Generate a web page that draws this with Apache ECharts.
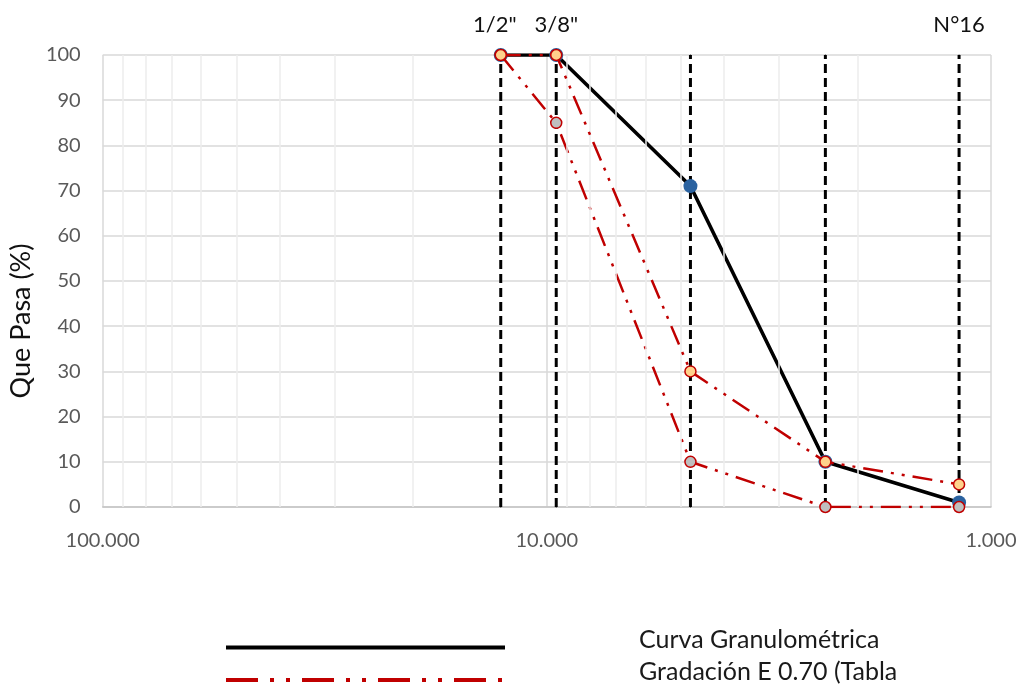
<!DOCTYPE html>
<html>
<head>
<meta charset="utf-8">
<script src="https://cdn.jsdelivr.net/npm/echarts@6/dist/echarts.min.js"></script>
<style>
html,body{margin:0;padding:0;background:#fff;}
#chart{width:1024px;height:690px;}
</style>
</head>
<body>
<div id="chart"></div>
<script>
// Sieve sizes (mm) and names
const sieveNames = ['1/2"', '3/8"', 'N°4', 'N°8', 'N°16'];
const sieveSizes = [12.7, 9.525, 4.75, 2.36, 1.18];
const topLabels = ['1/2"', '3/8"', '', '', 'N°16'];
// Percent passing
const curva = [100, 100, 71, 10, 1];
const gradLower = [100, 85, 10, 0, 0];
const gradUpper = [100, 100, 30, 10, 5];
// Minor vertical gridlines of the log axis
const minorGrid = [90, 80, 70, 60, 50, 40, 30, 20, 9, 8, 7, 6, 5, 4, 3, 2];

const nameCurva = 'Curva Granulométrica';
const nameGrad = 'Gradación E 0.70 (Tabla';
const FONT = 'Lato, "Open Sans", sans-serif';
const RED = '#c00000';

const chart = echarts.init(document.getElementById('chart'));

const pts = arr => sieveSizes.map((s, i) => [s, arr[i]]);

const series = [];
// minor gridlines holder
series.push({
  type: 'line', name: '_grid', data: [], z: 0, silent: true,
  markLine: {
    silent: true, symbol: 'none', animation: false,
    label: { show: false },
    lineStyle: { color: '#ececec', width: 1.5, type: 'solid' },
    data: minorGrid.map(v => ({ xAxis: v }))
  }
});
// vertical dashed sieve lines
sieveSizes.forEach((s, i) => {
  series.push({
    type: 'line', name: '_v' + i, z: 2, silent: true,
    showSymbol: true, symbol: 'circle', symbolSize: 1,
    itemStyle: { color: '#000' },
    lineStyle: { color: '#000', width: 3, type: [9, 5] },
    data: [
      { value: [s, 0] },
      { value: [s, 100], label: { show: !!topLabels[i], formatter: topLabels[i], position: 'top', distance: 19,
        offset: [i === 0 ? -6 : 0, 0],
        fontFamily: FONT, fontSize: 22, color: '#111' } }
    ],
    label: { show: false }
  });
});
series.push({
  type: 'line', name: nameCurva, z: 3,
  data: pts(curva),
  symbol: 'circle', symbolSize: 14,
  itemStyle: { color: '#2a62a0', borderWidth: 0 },
  lineStyle: { color: '#000', width: 3.6 }
});
series.push({
  type: 'line', name: nameGrad, z: 4,
  data: pts(gradLower),
  symbol: 'circle', symbolSize: 11,
  itemStyle: { color: '#bfbfbf', borderColor: RED, borderWidth: 1.5 },
  lineStyle: { color: RED, width: 2.5, type: [20, 8, 3, 8, 3, 8] }
});
series.push({
  type: 'line', name: nameGrad, z: 5,
  data: pts(gradUpper),
  symbol: 'circle', symbolSize: 11,
  itemStyle: { color: '#ffd28c', borderColor: RED, borderWidth: 1.5 },
  lineStyle: { color: RED, width: 2.5, type: [20, 8, 3, 8, 3, 8] }
});

chart.setOption({
  animation: false,
  backgroundColor: '#fff',
  grid: { left: 100, right: 33, top: 55, bottom: 183, containLabel: false },
  xAxis: {
    type: 'log', logBase: 10, min: 1, max: 100, inverse: true,
    axisLine: { show: true, lineStyle: { color: '#c4c4c4', width: 1.5 } },
    axisTick: { show: false },
    splitLine: { show: true, lineStyle: { color: '#d9d9d9', width: 1.5 } },
    minorSplitLine: { show: false },
    axisLabel: { color: '#595959', fontFamily: FONT, fontSize: 20, margin: 24,
      formatter: v => Number(v).toFixed(3) }
  },
  yAxis: {
    type: 'value', min: 0, max: 100, interval: 10,
    name: 'Que Pasa (%)', nameLocation: 'middle', nameGap: 61, nameRotate: 90,
    nameTextStyle: { fontFamily: FONT, fontSize: 27, color: '#111', padding: [0, 80, 0, 0] },
    axisLine: { show: false }, axisTick: { show: false },
    splitLine: { show: true, lineStyle: { color: '#d9d9d9', width: 1.5 } },
    axisLabel: { color: '#595959', fontFamily: FONT, fontSize: 20, margin: 22 }
  },
  legend: {
    orient: 'vertical', left: 224, top: 627, height: 150, padding: 0,
    itemWidth: 279, itemHeight: 14, itemGap: -11,
    itemStyle: { opacity: 0 },
    formatter: name => '{t|' + name + '}\n{s|}',
    textStyle: {
      fontFamily: FONT, fontSize: 25, color: '#1a1a1a', padding: [0, 0, 0, 129],
      rich: {
        t: { fontFamily: FONT, fontSize: 25, color: '#1a1a1a', lineHeight: 30 },
        s: { height: 16, lineHeight: 16, fontSize: 10 }
      }
    },
    data: [
      { name: nameCurva, lineStyle: { color: '#000', width: 4, type: 'solid' } },
      { name: nameGrad, lineStyle: { color: RED, width: 4, type: [32, 12, 4, 12, 4, 12] } }
    ]
  },
  series: series
});
</script>
</body>
</html>
